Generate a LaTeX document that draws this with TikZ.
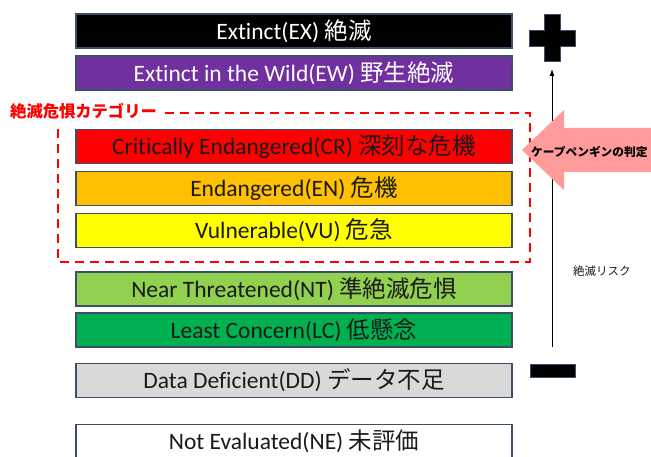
\documentclass[tikz,border=0pt]{standalone}
\usepackage{fontspec}
\setmainfont{Carlito}[Ligatures=NoCommon]
\newfontfamily\jp{Noto Sans CJK JP}
\usetikzlibrary{arrows.meta}
\definecolor{bord}{HTML}{3B5068}
\definecolor{cEW}{HTML}{7030A0}
\definecolor{cCR}{HTML}{FF0000}
\definecolor{cEN}{HTML}{FFC000}
\definecolor{cVU}{HTML}{FFFF00}
\definecolor{cNT}{HTML}{92D050}
\definecolor{cLC}{HTML}{00B050}
\definecolor{cDD}{HTML}{D9D9D9}
\definecolor{pinkarrow}{HTML}{FF9B9B}
\definecolor{txt}{HTML}{1A1A1A}
\tikzset{
  catbox/.style={draw=bord, line width=1.4pt, minimum width=436pt, minimum height=34pt,
    inner sep=0pt, font=\fontsize{23.5}{25}\selectfont, text=txt},
  catdash/.style={draw=red, line width=2.2pt, dash pattern=on 9pt off 6pt},
}
\begin{document}
\begin{tikzpicture}[x=1pt,y=-1pt]
\useasboundingbox (0,0) rectangle (651,457);
% dashed category frame
\node[anchor=west, inner sep=0pt, text=red, font=\jp\bfseries\fontsize{16.3}{18}\selectfont] (cattitle) at (10,111) {絶滅危惧カテゴリー};
\coordinate (d1) at (165,113);
\coordinate (d2) at (530,113);
\coordinate (d3) at (530,262);
\coordinate (d4) at (58,262);
\coordinate (d5) at (58,125);
\draw[catdash] (d1) -- (d2) -- (d3) -- (d4) -- (d5);
% category boxes
\node[catbox, fill=black, text=white] (ex) at (294,31) {Extinct(EX) {\jp 絶滅}};
\node[catbox, fill=cEW, text=white] (ew) at (294,73) {Extinct in the Wild(EW) {\jp 野生絶滅}};
\node[catbox, fill=cCR] (cr) at (294,146.5) {Critically Endangered(CR) {\jp 深刻な危機}};
\node[catbox, fill=cEN] (en) at (294,188.5) {Endangered(EN) {\jp 危機}};
\node[catbox, fill=cVU] (vu) at (294,230.5) {Vulnerable(VU) {\jp 危急}};
\node[catbox, fill=cNT] (nt) at (294,289) {Near Threatened(NT) {\jp 準絶滅危惧}};
\node[catbox, fill=cLC] (lc) at (294,330) {Least Concern(LC) {\jp 低懸念}};
\node[catbox, fill=cDD] (dd) at (294,380.5) {Data Deficient(DD) {\jp データ不足}};
\node[catbox, fill=white] (ne) at (294,441.5) {Not Evaluated(NE) {\jp 未評価}};
% plus and minus
\draw[draw=bord, line width=1pt, fill=black] (544,15) -- (560,15) -- (560,30.5) -- (575,30.5) -- (575,46.5) -- (560,46.5) -- (560,62) -- (544,62) -- (544,46.5) -- (529,46.5) -- (529,30.5) -- (544,30.5) -- cycle;
\draw[draw=bord, line width=1pt, fill=black] (530,364) rectangle (575,377);
% risk axis
\coordinate (riskbot) at (552,347);
\coordinate (risktop) at (552,69);
\draw[line width=0.9pt, -{Latex[length=7pt,width=5pt]}] (riskbot) -- (risktop);
\node[anchor=west, inner sep=0pt, text=txt, font=\jp\fontsize{11.5}{13}\selectfont] (risk) at (573,271) {絶滅リスク};
% penguin arrow
\fill[pinkarrow] (665,128) -- (564,128) -- (564,110) -- (522,150) -- (564,190) -- (564,172) -- (665,172) -- cycle;
\node[anchor=west, inner sep=0pt, text=black, font=\jp\bfseries\fontsize{11.7}{13}\selectfont] (peng) at (531,152) {ケープペンギンの判定};
\end{tikzpicture}
\end{document}
